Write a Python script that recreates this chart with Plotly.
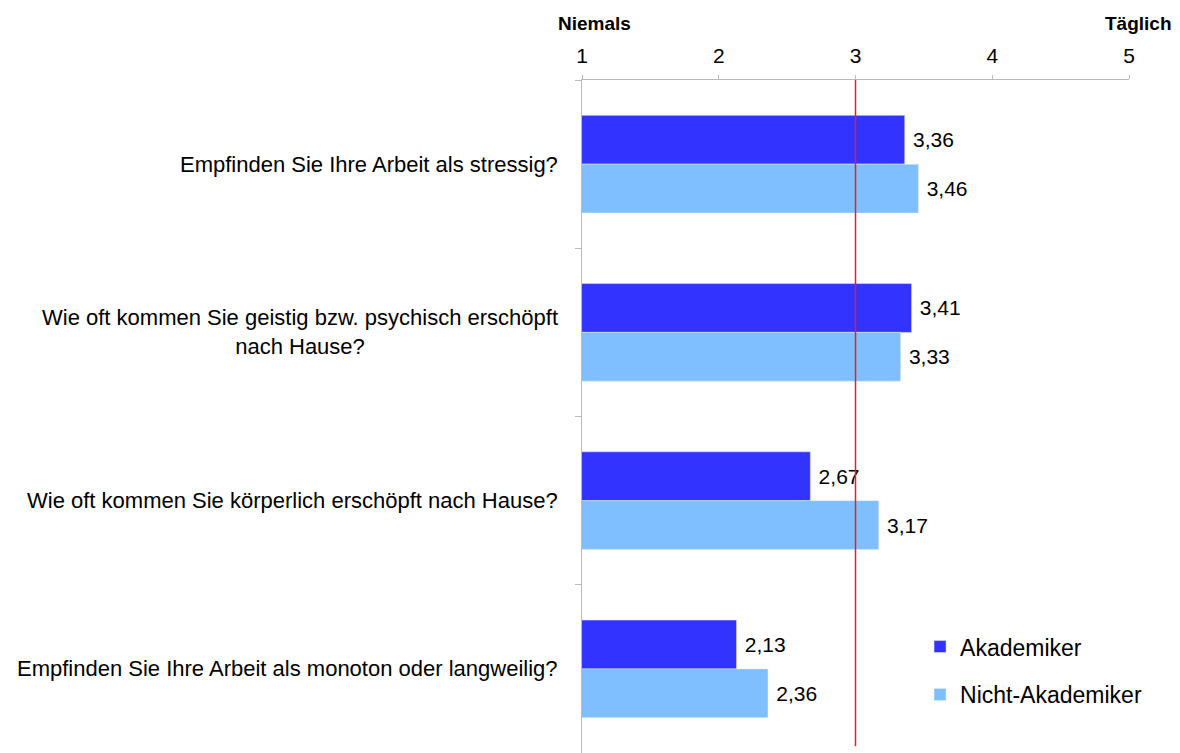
import plotly.graph_objects as go

categories = [
    "Empfinden Sie Ihre Arbeit als stressig?",
    "Wie oft kommen Sie geistig bzw. psychisch erschöpft<br>nach Hause?",
    "Wie oft kommen Sie körperlich erschöpft nach Hause?",
    "Empfinden Sie Ihre Arbeit als monoton oder langweilig?",
]
akademiker = [3.36, 3.41, 2.67, 2.13]
nicht_akademiker = [3.46, 3.33, 3.17, 2.36]
scale_ticks = [1, 2, 3, 4, 5]
scale_ends = {1: "Niemals", 5: "Täglich"}
reference_value = 3

font = "Liberation Sans, Arial, sans-serif"


def de(v):
    # German decimal comma, small leading space to push the label off the bar
    return "\u2005" + f"{v:.2f}".replace(".", ",")


fig = go.Figure()
fig.add_trace(go.Bar(name="Akademiker", y=categories, x=akademiker, orientation="h",
                     marker_color="#3333FF", text=[de(v) for v in akademiker],
                     textposition="outside", legendgroup="a", cliponaxis=False,
                     textfont=dict(size=21)))
fig.add_trace(go.Bar(name="Nicht-Akademiker", y=categories, x=nicht_akademiker, orientation="h",
                     marker_color="#80BFFF", text=[de(v) for v in nicht_akademiker],
                     textposition="outside", legendgroup="b", cliponaxis=False,
                     textfont=dict(size=21)))

# reference line at the scale midpoint
fig.add_shape(type="line", xref="x", yref="paper", x0=reference_value, x1=reference_value,
              y0=0.01, y1=1, line=dict(color="#E82020", width=1.5))

# category labels (centred multi-line like the original)
for c in categories:
    fig.add_annotation(text=c, xref="paper", yref="y", x=-0.04, y=c, xanchor="right",
                       align="center", showarrow=False, font=dict(size=22, color="black"))

# scale end labels
for k, lab in scale_ends.items():
    fig.add_annotation(text=f"<b>{lab}</b>", xref="x", yref="paper", x=k, y=1, yshift=69,
                       xanchor="center", xshift=12 if k == 1 else 9, showarrow=False,
                       font=dict(size=19, color="black"))

# page body has an 8px margin, so margins are offset by it
fig.update_layout(
    width=1180, height=753,
    margin=dict(l=574, r=59, t=72, b=8),
    paper_bgcolor="white", plot_bgcolor="white",
    barmode="group", bargap=0.42, bargroupgap=0,
    font=dict(family=font, size=21, color="black"),
    uniformtext=dict(minsize=21, mode="show"),
    legend=dict(x=0.618, y=0.19, xanchor="left", yanchor="top", traceorder="grouped",
                tracegroupgap=15, font=dict(size=23), bgcolor="rgba(0,0,0,0)",
                itemwidth=30),
    showlegend=True,
)
fig.update_xaxes(side="top", range=[1, 5], tickvals=scale_ticks, showgrid=False,
                 showline=True, linecolor="#BBBBBB", linewidth=1, ticks="outside",
                 tickcolor="#BBBBBB", ticklen=4, tickfont=dict(size=21),
                 ticklabelstandoff=4, zeroline=False, automargin=False)
fig.update_yaxes(autorange="reversed", showticklabels=False, showgrid=False,
                 showline=True, linecolor="#BBBBBB", ticks="outside", tickson="boundaries",
                 tickcolor="#BBBBBB", ticklen=6, automargin=False)

fig.write_html("out.html")
